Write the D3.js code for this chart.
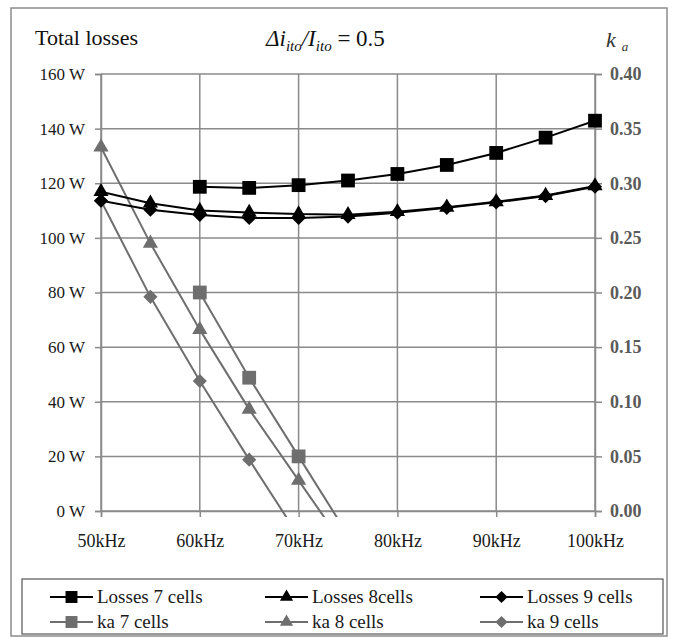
<!DOCTYPE html>
<html>
<head>
<meta charset="utf-8">
<script src="https://cdn.jsdelivr.net/npm/d3@7"></script>
<style>
body { margin: 0; background: #fff; }
svg, svg text { font-family: "Times New Roman", Tinos, "Liberation Serif", "DejaVu Serif", serif !important; }
</style>
</head>
<body>
<div id="chart"></div>
<script>
// data
const freqs = [50, 55, 60, 65, 70, 75, 80, 85, 90, 95, 100];
const xTicks = [50, 60, 70, 80, 90, 100];
const wTicks = [0, 20, 40, 60, 80, 100, 120, 140, 160];
const kaTicks = [0, 0.05, 0.10, 0.15, 0.20, 0.25, 0.30, 0.35, 0.40];

const losses7 = [null, null, 118.7, 118.3, 119.3, 121.0, 123.4, 126.7, 131.1, 136.7, 142.9];
const losses8 = [116.9, 112.7, 110.0, 109.3, 108.7, 108.5, 109.6, 111.2, 113.2, 115.5, 119.0];
const losses9 = [113.6, 110.3, 108.4, 107.3, 107.3, 107.8, 109.2, 111.0, 113.0, 115.3, 118.7];
// last value of each ka series lies under the axis and is cut off
const ka7 = [null, null, 0.200, 0.122, 0.050, -0.022, null, null, null, null, null];
const ka8 = [0.333, 0.245, 0.166, 0.093, 0.028, -0.037, null, null, null, null, null];
const ka9 = [0.284, 0.196, 0.119, 0.047, -0.023, null, null, null, null, null, null];

const seriesNames = ["Losses 7 cells", "Losses 8cells", "Losses 9 cells", "ka 7 cells", "ka 8 cells", "ka 9 cells"];

const W = 674, H = 639;
const plot = { left: 101, right: 595, top: 74, bottom: 511 };

const svg = d3.select("#chart").append("svg")
    .attr("width", W)
    .attr("height", H);

// outer frame
svg.append("rect")
    .attr("x", 11).attr("y", 8)
    .attr("width", 656).attr("height", 628)
    .attr("fill", "none")
    .attr("stroke", "#8c8c8c")
    .attr("stroke-width", 1.5);

const x = d3.scaleLinear().domain([50, 100]).range([plot.left, plot.right]);
const yW = d3.scaleLinear().domain([0, 160]).range([plot.bottom, plot.top]);
const yK = d3.scaleLinear().domain([0, 0.40]).range([plot.bottom, plot.top]);

const gridCol = "#8a8a8a";

// grid
svg.append("g")
    .selectAll("line.h")
    .data(wTicks)
    .join("line")
    .attr("x1", plot.left).attr("x2", plot.right)
    .attr("y1", d => yW(d)).attr("y2", d => yW(d))
    .attr("stroke", gridCol).attr("stroke-width", 1.5);

svg.append("g")
    .selectAll("line.v")
    .data(xTicks)
    .join("line")
    .attr("x1", d => x(d)).attr("x2", d => x(d))
    .attr("y1", plot.top).attr("y2", plot.bottom)
    .attr("stroke", gridCol).attr("stroke-width", 1.5);

// axes
const leftAxis = svg.append("g")
    .attr("transform", `translate(${plot.left},0)`)
    .call(d3.axisLeft(yW).tickValues(wTicks).tickSize(6).tickPadding(10).tickFormat(d => d + " W"));

const rightAxis = svg.append("g")
    .attr("transform", `translate(${plot.right},0)`)
    .call(d3.axisRight(yK).tickValues(kaTicks).tickSize(7).tickPadding(8).tickFormat(d3.format(".2f")));

const bottomAxis = svg.append("g")
    .attr("transform", `translate(0,${plot.bottom})`)
    .call(d3.axisBottom(x).tickValues(xTicks).tickSize(6).tickPadding(17).tickFormat(d => d + "kHz"));

[leftAxis, rightAxis, bottomAxis].forEach(g => {
    g.attr("font-family", null);
    g.select(".domain").attr("stroke", gridCol).attr("stroke-width", 1.5);
    g.selectAll(".tick line").attr("stroke", gridCol).attr("stroke-width", 1.5);
    g.selectAll("text").attr("font-size", 17).attr("fill", "#1a1a1a");
});
rightAxis.selectAll("text").attr("fill", "#5a5a5a").attr("font-weight", "bold").attr("font-size", 18);
bottomAxis.selectAll("text").attr("font-size", 18);

// titles
svg.append("text")
    .attr("x", 35).attr("y", 45)
    .attr("font-size", 22)
    .attr("fill", "#111")
    .text("Total losses");

const t = svg.append("text")
    .attr("x", 266).attr("y", 46)
    .attr("font-size", 23)
    .attr("fill", "#111");
t.append("tspan").attr("font-style", "italic").text("Δi");
t.append("tspan").attr("font-style", "italic").attr("font-size", 15).attr("dy", 5).text("ito");
t.append("tspan").attr("font-style", "italic").attr("dy", -5).text("/I");
t.append("tspan").attr("font-style", "italic").attr("font-size", 15).attr("dy", 5).text("ito");
t.append("tspan").attr("dy", -5).text(" = 0.5");

const k = svg.append("text")
    .attr("x", 606).attr("y", 47)
    .attr("font-size", 22)
    .attr("fill", "#333");
k.append("tspan").attr("font-style", "italic").text("k");
k.append("tspan").attr("font-style", "italic").attr("font-size", 13).attr("dx", 6).attr("dy", 4).text("a");

// clip so the ka lines stop just under the axis
svg.append("clipPath").attr("id", "plotclip")
    .append("rect")
    .attr("x", plot.left).attr("y", plot.top - 10)
    .attr("width", plot.right - plot.left)
    .attr("height", plot.bottom - plot.top + 16);

const black = "#000", gray = "#6e6e6e";

const series = [
    { name: seriesNames[0], vals: losses7, y: yW, color: black, shape: "square" },
    { name: seriesNames[1], vals: losses8, y: yW, color: black, shape: "triangle" },
    { name: seriesNames[2], vals: losses9, y: yW, color: black, shape: "diamond" },
    { name: seriesNames[3], vals: ka7, y: yK, color: gray, shape: "square" },
    { name: seriesNames[4], vals: ka8, y: yK, color: gray, shape: "triangle" },
    { name: seriesNames[5], vals: ka9, y: yK, color: gray, shape: "diamond" }
];

function symbolPath(shape, scale) {
    if (shape === "square") return d3.symbol(d3.symbolSquare, 190 * scale)();
    if (shape === "triangle") return d3.symbol(d3.symbolTriangle, 100 * scale)();
    return d3.symbol(d3.symbolSquare, 100 * scale)();
}

const plotG = svg.append("g").attr("clip-path", "url(#plotclip)");

// gray first, black on top
[3, 4, 5, 0, 1, 2].forEach(i => {
    const s = series[i];
    const pts = freqs.map((f, j) => ({ f: f, v: s.vals[j] })).filter(d => d.v !== null);

    const line = d3.line()
        .x(d => x(d.f))
        .y(d => s.y(d.v));

    plotG.append("path")
        .attr("d", line(pts))
        .attr("fill", "none")
        .attr("stroke", s.color)
        .attr("stroke-width", 2);

    svg.append("g")
        .selectAll("path")
        .data(pts.filter(d => d.v >= 0))
        .join("path")
        .attr("d", symbolPath(s.shape, 1))
        .attr("transform", d => `translate(${x(d.f)},${s.y(d.v)})` + (s.shape === "diamond" ? " rotate(45)" : ""))
        .attr("fill", s.color);
});

// legend
svg.append("rect")
    .attr("x", 22).attr("y", 579)
    .attr("width", 641).attr("height", 55)
    .attr("fill", "#fff")
    .attr("stroke", "#555")
    .attr("stroke-width", 1.2);

const legX = [50, 265, 480];
const legY = [597, 622];

const leg = svg.append("g")
    .selectAll("g")
    .data(series)
    .join("g")
    .attr("transform", (d, i) => `translate(${legX[i % 3]},${legY[Math.floor(i / 3)]})`);

leg.append("line")
    .attr("x1", 0).attr("x2", 43)
    .attr("stroke", d => d.color)
    .attr("stroke-width", 2);

leg.append("path")
    .attr("d", d => symbolPath(d.shape, 0.75))
    .attr("transform", d => "translate(21.5,0)" + (d.shape === "diamond" ? " rotate(45)" : ""))
    .attr("fill", d => d.color);

leg.append("text")
    .attr("x", 47).attr("y", 6)
    .attr("font-size", 19)
    .attr("fill", "#1a1a1a")
    .text(d => d.name);
</script>
</body>
</html>
